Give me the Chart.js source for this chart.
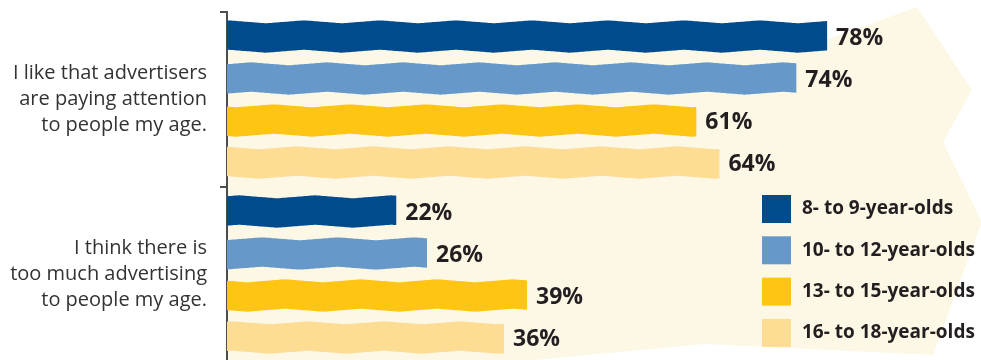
<!DOCTYPE html>
<html>
<head>
<meta charset="utf-8">
<script src="https://cdn.jsdelivr.net/npm/chart.js@4.4.0/dist/chart.umd.min.js"></script>
<style>
  html, body { margin: 0; padding: 0; background: #fff; overflow: hidden; }
  #wrap { position: relative; width: 981px; height: 364px; }
</style>
</head>
<body>
<div id="wrap"><canvas id="chart"></canvas></div>
<script>
// Statements (categories)
const statements = [
  ["I like that advertisers", "are paying attention", "to people my age."],
  ["I think there is", "too much advertising", "to people my age."]
];

// Age groups (series)
const ageGroups = ["8- to 9-year-olds", "10- to 12-year-olds", "13- to 15-year-olds", "16- to 18-year-olds"];

// Percent agreeing, per age group
const values8to9 = [78, 22];
const values10to12 = [74, 26];
const values13to15 = [61, 39];
const values16to18 = [64, 36];

const seriesColors = ["#004b8d", "#6699c9", "#fec514", "#fddc94"];
const textColor = "#231f20";
const fontFamily = "'Open Sans', 'Noto Sans', sans-serif";

// zigzag offset for the wavy bar edges
function wave(x, phase) {
  const P = 76, A = 1.5;
  const t = (((x - phase) % P) + P) % P / P;
  return A * (t < 0.5 ? 4 * t - 1 : 3 - 4 * t);
}

// cream arrow shape behind the plot
const backdrop = {
  id: 'backdrop',
  beforeDraw(chart) {
    const ctx = chart.ctx;
    const left = chart.chartArea.left + 1;
    ctx.save();
    ctx.fillStyle = "#fdf7e5";
    ctx.beginPath();
    ctx.moveTo(left, 38);
    ctx.lineTo(815, 44);
    ctx.lineTo(917, 7);
    ctx.lineTo(972, 90);
    ctx.lineTo(943, 142);
    ctx.lineTo(982, 222);
    ctx.lineTo(933, 355);
    ctx.lineTo(705, 344);
    ctx.lineTo(534, 360);
    ctx.lineTo(left, 364);
    ctx.closePath();
    ctx.fill();
    ctx.restore();
  }
};

// draw bars with wavy top/bottom edges
const wavyBars = {
  id: 'wavyBars',
  beforeDatasetDraw(chart, args) {
    const ctx = chart.ctx;
    const meta = args.meta;
    const color = chart.data.datasets[args.index].backgroundColor;
    ctx.save();
    ctx.fillStyle = color;
    meta.data.forEach((el, i) => {
      const p = el.getProps(['x', 'y', 'base', 'height'], true);
      const x0 = p.base, x1 = p.x;
      const yTop = p.y - p.height / 2, yBot = p.y + p.height / 2;
      const phase = args.index * 23 + i * 11;
      ctx.beginPath();
      ctx.moveTo(x0, yTop + wave(x0, phase));
      for (let x = x0; x < x1; x += 2) ctx.lineTo(x, yTop + wave(x, phase));
      ctx.lineTo(x1, yTop + wave(x1, phase));
      ctx.lineTo(x1, yBot + wave(x1, phase));
      for (let x = x1; x > x0; x -= 2) ctx.lineTo(x, yBot + wave(x, phase));
      ctx.lineTo(x0, yBot + wave(x0, phase));
      ctx.closePath();
      ctx.fill();
    });
    ctx.restore();
    return false;
  }
};

// value labels at bar ends
const valueLabels = {
  id: 'valueLabels',
  afterDatasetsDraw(chart) {
    const ctx = chart.ctx;
    ctx.save();
    ctx.fillStyle = textColor;
    ctx.font = "bold 23px " + fontFamily;
    ctx.textAlign = "left";
    ctx.textBaseline = "middle";
    chart.data.datasets.forEach((ds, di) => {
      chart.getDatasetMeta(di).data.forEach((el, i) => {
        ctx.fillText(ds.data[i] + "%", el.x + 9, el.y + 2);
      });
    });
    ctx.restore();
  }
};

// legend box in the lower right
const sideLegend = {
  id: 'sideLegend',
  afterDraw(chart) {
    const ctx = chart.ctx;
    ctx.save();
    ctx.font = "bold 19px " + fontFamily;
    ctx.textBaseline = "middle";
    ctx.textAlign = "left";
    chart.data.datasets.forEach((ds, i) => {
      const y = 195 + i * 41.3;
      ctx.fillStyle = ds.backgroundColor;
      ctx.fillRect(762, y, 29, 28);
      ctx.fillStyle = textColor;
      ctx.fillText(ds.label, 802, y + 14);
    });
    ctx.restore();
  }
};

const seriesValues = [values8to9, values10to12, values13to15, values16to18];

new Chart(document.getElementById('chart'), {
  type: 'bar',
  data: {
    labels: statements,
    datasets: ageGroups.map((name, i) => ({
      label: name,
      data: seriesValues[i],
      backgroundColor: seriesColors[i],
      categoryPercentage: 0.96,
      barPercentage: 0.7
    }))
  },
  options: {
    indexAxis: 'y',
    responsive: true,
    maintainAspectRatio: false,
    animation: false,
    layout: { padding: { top: 12, right: 0, bottom: 2, left: 0 } },
    plugins: {
      legend: { display: false },
      tooltip: { enabled: false },
      title: { display: false }
    },
    scales: {
      x: {
        display: false,
        min: 0,
        max: 98
      },
      y: {
        afterFit(scale) {
          scale.width = 227;
          scale.paddingTop = 0;
          scale.paddingBottom = 0;
        },
        grid: {
          drawOnChartArea: false,
          drawTicks: true,
          tickLength: 7,
          color: '#4d4d4d',
          lineWidth: 2,
          offset: true
        },
        border: { display: true, color: '#4d4d4d', width: 2 },
        ticks: {
          padding: 13,
          color: '#333',
          font: { family: fontFamily, size: 20, lineHeight: 1.3 }
        }
      }
    }
  },
  plugins: [backdrop, wavyBars, valueLabels, sideLegend]
});
</script>
</body>
</html>
